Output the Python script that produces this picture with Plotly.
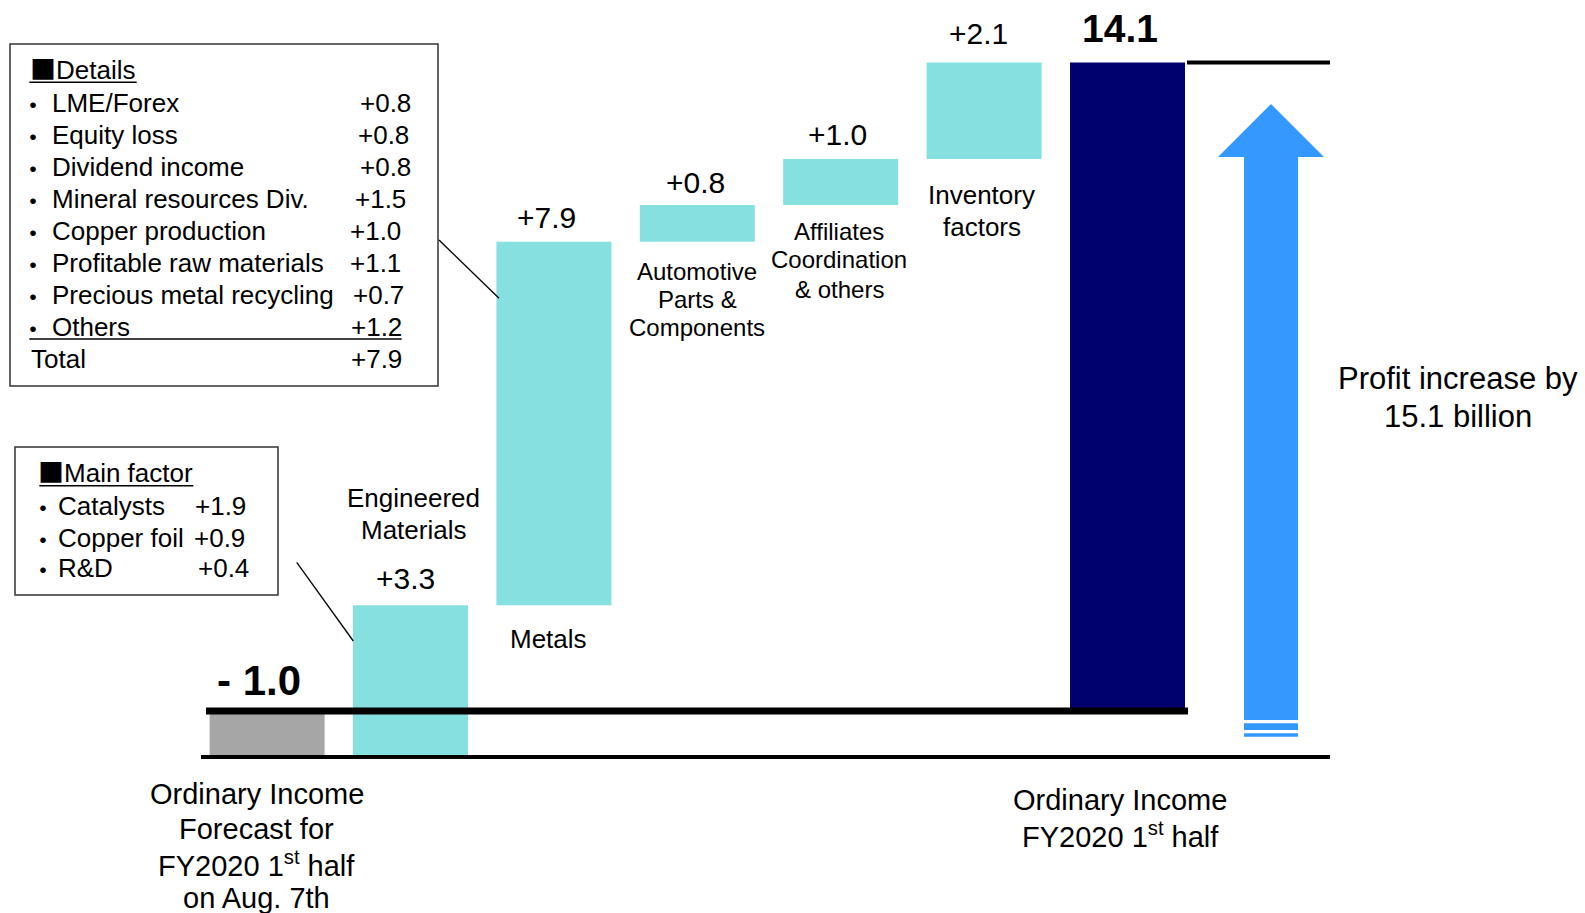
import plotly.graph_objects as go

W, H = 1585, 913

# ---------------- data ----------------
categories = [
    "Ordinary Income<br>Forecast for<br>FY2020 1<sup>st</sup> half<br>on Aug. 7th",
    "Engineered<br>Materials",
    "Metals",
    "Automotive<br>Parts &<br>Components",
    "Affiliates<br>Coordination<br>& others",
    "Inventory<br>factors",
    "Ordinary Income<br>FY2020 1<sup>st</sup> half",
]
measures = ["absolute", "relative", "relative", "relative", "relative", "relative", "total"]
values = [-1.0, 3.3, 7.9, 0.8, 1.0, 2.1, 14.1]
value_labels = ["- 1.0", "+3.3", "+7.9", "+0.8", "+1.0", "+2.1", "14.1"]

details_title = "Details"
details_items = ["LME/Forex", "Equity loss", "Dividend income", "Mineral resources Div.",
                 "Copper production", "Profitable raw materials", "Precious metal recycling", "Others"]
details_values = ["+0.8", "+0.8", "+0.8", "+1.5", "+1.0", "+1.1", "+0.7", "+1.2"]
details_total_label = "Total"
details_total_value = "+7.9"

main_title = "Main factor"
main_items = ["Catalysts", "Copper foil", "R&D"]
main_values = ["+1.9", "+0.9", "+0.4"]

increase_text = ["Profit increase by", "15.1 billion"]

# ---------------- geometry ----------------
X_SPACING = 143.4
X0_PX = 267.1
Y_ZERO_PX = 711.0
Y_UNIT_PX = 46.0
BAR_W = 115 / X_SPACING

x_lo = -X0_PX / X_SPACING
x_hi = x_lo + W / X_SPACING
y_hi = Y_ZERO_PX / Y_UNIT_PX
y_lo = -(H - Y_ZERO_PX) / Y_UNIT_PX


def px(v):
    return v / W


def py(v):
    return 1 - v / H


FONT = "Liberation Sans, Arial, sans-serif"
CJK = "Noto Sans CJK JP"
CYAN = "#86E0E0"
GRAY = "#A6A6A6"
NAVY = "#00006E"
BLUE = "#3399FF"
SQUARE = '<span style="font-family:Noto Sans CJK JP">■</span>'

# ---------------- waterfall bars ----------------
bases, heights, colors, tops = [], [], [], []
running = 0.0
for m, v in zip(measures, values):
    if m == "absolute":
        b, h = 0.0, v
        running = v
        colors.append(GRAY)
    elif m == "relative":
        b, h = running, v
        running = running + v
        colors.append(CYAN)
    else:
        b, h = 0.0, running
        colors.append(NAVY)
    bases.append(b)
    heights.append(h)
    tops.append(max(b, b + h))

xs = list(range(len(categories)))

fig = go.Figure()
fig.add_trace(go.Bar(
    x=xs, y=heights, base=bases, width=BAR_W,
    marker=dict(color=colors, line=dict(width=0)),
    hoverinfo="skip", showlegend=False,
))

annotations = []


def txt(text, x, y, size, xanchor="center", xref="paper", yref="paper",
        family=FONT, xshift=0, yshift=0, yanchor="middle"):
    annotations.append(dict(
        text=text, x=x, y=y, xref=xref, yref=yref, xanchor=xanchor, yanchor=yanchor,
        showarrow=False, font=dict(family=family, size=size, color="black"),
        borderpad=0, xshift=xshift, yshift=yshift,
    ))


# value labels (anchored on the bar tops)
val_xshift = [-8.4, -4.8, -7.2, -2.3, -3.0, -6.0, -8.0]
val_yshift = [31, 26.7, 24.8, 23, 24.5, 29, 34]
val_size = [42, 30, 30, 30, 30, 30, 39]
val_bold = [True, False, False, False, False, False, True]
for i, lab in enumerate(value_labels):
    t = f"<b>{lab}</b>" if val_bold[i] else lab
    ytop = 0 if measures[i] == "absolute" else tops[i]
    txt(t, xs[i], ytop, val_size[i], xref="x", yref="y",
        xshift=val_xshift[i], yshift=val_yshift[i])

# category labels
cat_xshift = [-10.3, 2.5, -5, 0, -1.7, -2.4, -7.5]
cat_lines_y = [
    [793.6, 829, 864.4, 897.8],
    [498.4, 530],
    [639],
    [271, 299.3, 327.6],
    [231.5, 259.8, 289],
    [195, 226.5],
    [799.7, 835],
]
cat_size = [29, 26, 26, 24, 24, 26, 29]
for i, cat in enumerate(categories):
    for line, yy in zip(cat.split("<br>"), cat_lines_y[i]):
        txt(line, xs[i], py(yy), cat_size[i], xref="x", xshift=cat_xshift[i])

# profit increase text
for line, yy in zip(increase_text, [378, 416.5]):
    txt(line, px(1458), py(yy), 31)

# ---------------- details box ----------------
txt(SQUARE + details_title, px(28.5), py(68), 26, xanchor="left")
row_y = [103.2 + 31.92 * k for k in range(len(details_items) + 1)]
val_x = [359.3, 357.3, 359.3, 354, 349.3, 349.3, 351.7, 350]
for k, (item, val) in enumerate(zip(details_items, details_values)):
    txt("<b>・</b>", px(32.5), py(row_y[k]), 22, family=CJK)
    txt(item, px(50.7), py(row_y[k]), 26, xanchor="left")
    txt(val, px(val_x[k]), py(row_y[k]), 26, xanchor="left")
txt(details_total_label, px(30), py(row_y[-1]), 26, xanchor="left")
txt(details_total_value, px(350), py(row_y[-1]), 26, xanchor="left")

# ---------------- main factor box ----------------
txt(SQUARE + main_title, px(36.5), py(470.5), 26, xanchor="left")
m_row_y = [506, 537.5, 568]
m_val_x = [194.3, 192.7, 196.7]
for k, (item, val) in enumerate(zip(main_items, main_values)):
    txt("<b>・</b>", px(42.5), py(m_row_y[k]), 22, family=CJK)
    txt(item, px(56.7), py(m_row_y[k]), 26, xanchor="left")
    txt(val, px(m_val_x[k]), py(m_row_y[k]), 26, xanchor="left")

# ---------------- shapes ----------------
shapes = []


def pline(x0, y0, x1, y1, w, color="black"):
    shapes.append(dict(type="line", xref="paper", yref="paper",
                       x0=px(x0), y0=py(y0), x1=px(x1), y1=py(y1),
                       line=dict(color=color, width=w)))


def prect(x0, y0, x1, y1, line_color=None, fill=None, w=1.5):
    d = dict(type="rect", xref="paper", yref="paper",
             x0=px(x0), y0=py(y0), x1=px(x1), y1=py(y1),
             line=dict(width=w if line_color else 0, color=line_color or "rgba(0,0,0,0)"))
    if fill:
        d["fillcolor"] = fill
    shapes.append(d)


# baselines tied to data values
shapes.append(dict(type="line", xref="paper", yref="y", x0=px(206), x1=px(1188),
                   y0=0, y1=0, line=dict(color="black", width=7)))
shapes.append(dict(type="line", xref="paper", yref="y", x0=px(201), x1=px(1330),
                   y0=values[0], y1=values[0], line=dict(color="black", width=4)))
shapes.append(dict(type="line", xref="paper", yref="y", x0=px(1187), x1=px(1330),
                   y0=tops[-1], y1=tops[-1], line=dict(color="black", width=4)))

# boxes
prect(10, 44, 438, 386, line_color="#333333")
prect(15, 447, 278, 595, line_color="#333333")
# underlines
pline(29.3, 82.3, 136.7, 82.3, 1.5)
pline(29.3, 339, 401.7, 339, 1.5)
pline(39.3, 485.7, 193.3, 485.7, 1.5)
# connectors
pline(439, 240, 499, 298.3, 1.3)
pline(296.7, 562.3, 353.3, 641, 1.3)

# big arrow
pts = [(1244, 720), (1244, 157), (1218, 157), (1271, 104), (1324, 157), (1298, 157), (1298, 720)]
path = "M " + " L ".join(f"{px(a):.5f},{py(b):.5f}" for a, b in pts) + " Z"
shapes.append(dict(type="path", xref="paper", yref="paper", path=path,
                   fillcolor=BLUE, line=dict(width=0)))
prect(1244, 723.3, 1298, 730, fill=BLUE)
prect(1244, 733.3, 1298, 736.7, fill=BLUE)

fig.update_layout(
    width=W, height=H,
    margin=dict(l=0, r=0, t=0, b=0),
    paper_bgcolor="white", plot_bgcolor="white",
    xaxis=dict(range=[x_lo, x_hi], visible=False, domain=[0, 1], fixedrange=True),
    yaxis=dict(range=[y_lo, y_hi], visible=False, domain=[0, 1], fixedrange=True),
    annotations=annotations,
    shapes=shapes,
    showlegend=False,
    font=dict(family=FONT),
)

fig.write_html("out.html")
